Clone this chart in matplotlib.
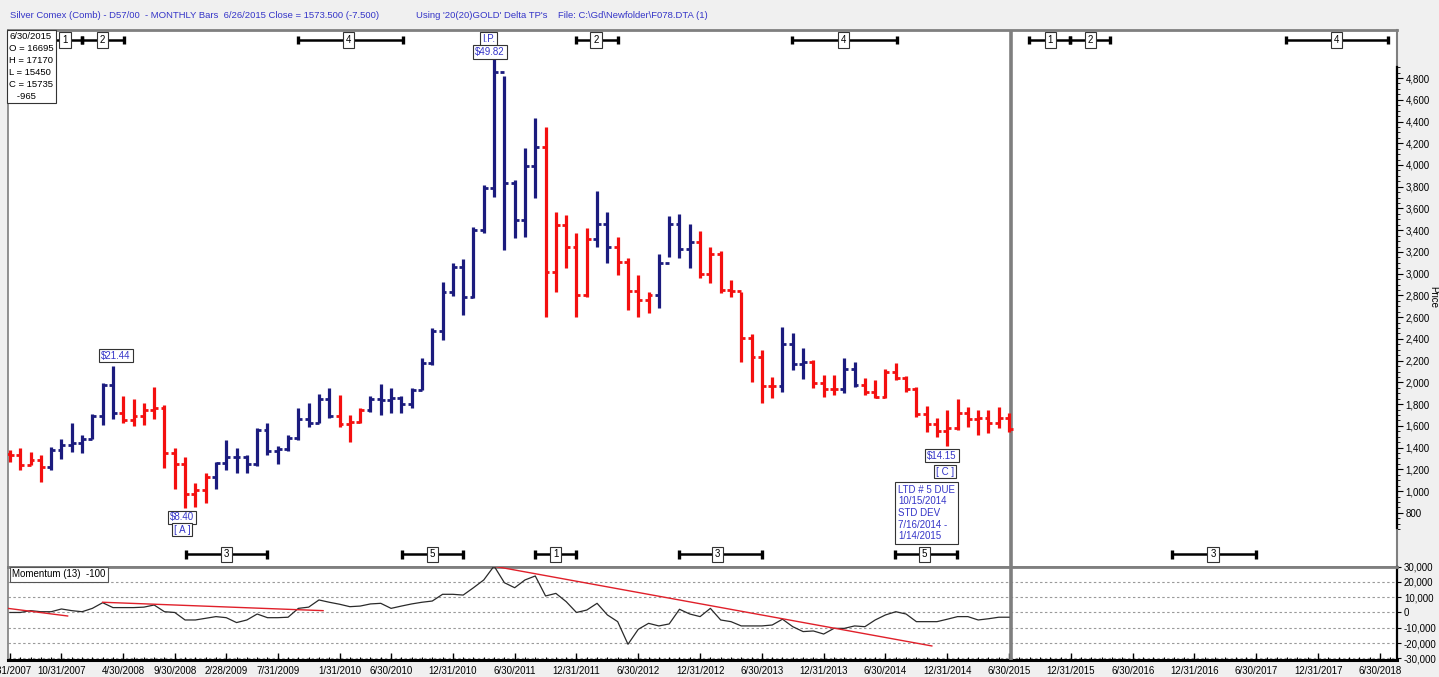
import numpy as np
import pandas as pd
import matplotlib
matplotlib.use('Agg')
import matplotlib.pyplot as plt
from matplotlib.ticker import FixedLocator, FuncFormatter

plt.rcParams['font.family'] = ['Liberation Sans', 'DejaVu Sans']

# ---------------- data ----------------
months = pd.date_range('2007-05-31', periods=136, freq='ME')
month_labels = [f"{d.month}/{d.day}/{d.year}" for d in months]

bar_open = [1340, 1330, 1240, 1290, 1220, 1380, 1420, 1440, 1480, 1690,
            1980, 1720, 1650, 1690, 1750, 1760, 1350, 1250, 970, 1010,
            1130, 1260, 1310, 1310, 1250, 1560, 1370, 1390, 1490, 1660,
            1630, 1850, 1690, 1620, 1640, 1750, 1850, 1840, 1860, 1800,
            1930, 2180, 2470, 2830, 3060, 2790, 3400, 3790, 4860, 3830,
            3490, 3990, 4170, 3020, 3450, 3250, 2800, 3320, 3460, 3250,
            3110, 2840, 2760, 2800, 3100, 3460, 3230, 3290, 3000, 3180,
            2850, 2840, 2410, 2230, 1970, 1970, 2350, 2170, 2190, 1990,
            1940, 1940, 2120, 1980, 1910, 1870, 2100, 2040, 1940, 1710,
            1620, 1550, 1580, 1720, 1660, 1670, 1630, 1669.5]
bar_high = [1378, 1396, 1359, 1332, 1405, 1479, 1626, 1516, 1709, 1994,
            2150, 1874, 1847, 1810, 1957, 1792, 1396, 1313, 1074, 1166,
            1267, 1470, 1396, 1332, 1580, 1629, 1414, 1516, 1764, 1810,
            1893, 1948, 1884, 1700, 1764, 1874, 1985, 1948, 1874, 1948,
            2224, 2500, 2923, 3098, 3135, 3429, 3816, 4982, 4818, 3862,
            4156, 4432, 4349, 3567, 3540, 3374, 3420, 3760, 3567, 3337,
            3144, 2988, 2831, 3181, 3530, 3549, 3457, 3393, 3245, 3208,
            2942, 2831, 2445, 2298, 2049, 2509, 2454, 2316, 2206, 2068,
            2068, 2224, 2187, 2040, 2022, 2123, 2178, 2058, 1957, 1782,
            1672, 1746, 1847, 1773, 1746, 1746, 1773, 1717]
bar_low = [1270, 1194, 1240, 1083, 1194, 1295, 1359, 1350, 1479, 1608,
           1663, 1626, 1598, 1608, 1663, 1212, 1019, 846, 853, 890,
           1019, 1194, 1166, 1166, 1230, 1330, 1250, 1370, 1470, 1589,
           1626, 1672, 1589, 1451, 1626, 1727, 1700, 1718, 1718, 1764,
           1930, 2160, 2390, 2794, 2620, 2776, 3374, 3705, 3218, 3328,
           3337, 3696, 2601, 2831, 3052, 2601, 2785, 3245, 3098, 2988,
           2666, 2601, 2638, 2684, 3153, 3144, 3052, 2960, 2914, 2822,
           2785, 2187, 2003, 1810, 1856, 1911, 2114, 2031, 1948, 1865,
           1884, 1902, 1957, 1884, 1856, 1856, 2022, 1911, 1681, 1543,
           1497, 1415, 1562, 1589, 1516, 1534, 1580, 1545]
bar_close = [1330, 1240, 1290, 1220, 1380, 1420, 1440, 1480, 1690, 1980,
             1720, 1650, 1690, 1750, 1760, 1350, 1250, 970, 1010, 1130,
             1260, 1310, 1310, 1250, 1560, 1370, 1390, 1490, 1660, 1630,
             1850, 1690, 1620, 1640, 1750, 1850, 1840, 1860, 1800, 1930,
             2180, 2470, 2830, 3060, 2790, 3400, 3790, 4860, 3830, 3490,
             3990, 4170, 3020, 3450, 3250, 2800, 3320, 3460, 3250, 3110,
             2840, 2760, 2800, 3100, 3460, 3230, 3290, 3000, 3180, 2850,
             2840, 2410, 2230, 1970, 1970, 2350, 2170, 2190, 1990, 1940,
             1940, 2120, 1980, 1910, 1870, 2100, 2040, 1940, 1710, 1620,
             1550, 1580, 1720, 1660, 1670, 1630, 1670, 1573.5]
bar_trend = (['down'] * 4 + ['up'] * 7 + ['down'] * 9 + ['up'] * 12 +
             ['down'] * 3 + ['up'] * 17 + ['down'] * 5 + ['up'] * 2 +
             ['down'] * 4 + ['up'] * 4 + ['down'] * 8 + ['up'] * 3 +
             ['down'] * 3 + ['up'] * 2 + ['down'] * 15)

momentum = [0, 0, 1200, 500, 500, 2300, 1200, 500, 2700, 6400,
            3200, 3200, 3200, 3500, 4900, 500, 0, -4900, -4900, -3800,
            -2700, -3400, -6600, -4900, -1000, -3400, -3400, -3100, 2700, 3500,
            8200, 6700, 5400, 3800, 4200, 5600, 6000, 2700, 4200, 5600,
            6700, 7500, 11900, 11900, 11400, 16200, 21300, 30400, 19500, 16200,
            21300, 23900, 10800, 12500, 7100, 0, 1600, 6000, -1600, -6000,
            -20800, -11000, -7100, -8800, -7500, 2100, -1000, -2700, 2700, -4900,
            -6000, -8800, -8800, -8800, -8200, -4400, -9300, -12500, -12100, -14100,
            -10400, -10400, -8800, -9300, -4900, -1600, 500, -1000, -6000, -6000,
            -6000, -4400, -2700, -2700, -4900, -4100, -3100, -3100]

# momentum trend lines (month index / momentum units)
mom_trend_x = [[-0.2, 5.6], [9.0, 30.4], [46.9, 89.5]]
mom_trend_y = [[2700, -2300], [6700, 1200], [30400, -21900]]

tick_dates = ["5/31/2007", "10/31/2007", "4/30/2008", "9/30/2008", "2/28/2009",
              "7/31/2009", "1/31/2010", "6/30/2010", "12/31/2010", "6/30/2011",
              "12/31/2011", "6/30/2012", "12/31/2012", "6/30/2013", "12/31/2013",
              "6/30/2014", "12/31/2014", "6/30/2015", "12/31/2015", "6/30/2016",
              "12/31/2016", "6/30/2017", "12/31/2017", "6/30/2018"]

# cycle segments
seg_labels = ['1', '2', '4', '2', '4', '1', '2', '4', '3', '5', '1', '3', '5', '3']
seg_x0 = [3.3, 7.0, 28.0, 55.0, 75.9, 98.9, 102.9, 123.9, 17.1, 38.1, 51.0, 65.0, 85.9, 112.8]
seg_x1 = [7.0, 11.1, 38.2, 59.0, 86.1, 102.9, 106.8, 133.8, 25.0, 44.0, 55.0, 73.0, 91.9, 121.0]
seg_lx = [5.35, 9.0, 32.9, 56.9, 80.9, 101.0, 104.9, 128.8, 21.0, 41.0, 53.0, 68.7, 88.8, 116.8]
seg_lvl = ['top'] * 8 + ['bottom'] * 6

# ---------------- figure ----------------
FW, FH = 1439, 677
fig = plt.figure(figsize=(FW / 100, FH / 100), dpi=100, facecolor='#f0f0f0')
L = 8 / FW
R = 1397 / FW
ax = fig.add_axes([L, 1 - 566.5 / FH, R - L, (566.5 - 30) / FH])
axm = fig.add_axes([L, 1 - 660 / FH, R - L, (660 - 566.5) / FH], sharex=ax)
for a in (ax, axm):
    a.set_facecolor('white')

XMIN, XMAX = -0.19, 134.66
ax.set_xlim(XMIN, XMAX)
ax.set_ylim(306, 5242)
axm.set_ylim(-31100, 30100)

BLUE = '#1b1b7e'
RED = '#f40f0f'
TXTBLUE = '#3535c8'
GRAY = '#7f7f7f'
FS = 7.0

# bars
for i in range(len(bar_close)):
    c = BLUE if bar_trend[i] == 'up' else RED
    ax.vlines(i, bar_low[i], bar_high[i], color=c, lw=2.3, zorder=4)
    ax.hlines(bar_open[i], i - 0.38, i, color=c, lw=2.0, zorder=4)
    ax.hlines(bar_close[i], i, i + 0.38, color=c, lw=2.0, zorder=4)

# separator line at last bar
for a in (ax, axm):
    a.axvline(97.15, color=GRAY, lw=2.6, zorder=3)

# price axis
ax.yaxis.tick_right()
ax.yaxis.set_major_locator(FixedLocator(list(range(800, 4801, 200))))
ax.yaxis.set_minor_locator(FixedLocator(list(range(650, 4901, 50))))
ax.yaxis.set_major_formatter(FuncFormatter(lambda v, p: f"{v:,.0f}"))
ax.tick_params(axis='y', which='major', length=4, width=0.8, labelsize=FS, pad=2)
ax.tick_params(axis='y', which='minor', length=2, width=0.6)
ax.tick_params(axis='x', which='both', bottom=False, labelbottom=False)
for s in ('left', 'top', 'right', 'bottom'):
    ax.spines[s].set_color(GRAY)
ax.spines['left'].set_linewidth(1.2)
ax.spines['top'].set_linewidth(2.0)
ax.spines['right'].set_linewidth(1.5)
ax.spines['bottom'].set_linewidth(2.0)
ax.plot([XMAX, XMAX], [660, 4900], color='black', lw=1.6, clip_on=False, zorder=6)
fig.text(1433 / FW, 1 - 297 / FH, 'Price', rotation=270, fontsize=FS,
         ha='center', va='center')

# momentum panel
for v in range(-30000, 30001, 10000):
    axm.axhline(v, color='#9a9a9a', lw=0.8, ls=(0, (2.2, 2.2)), zorder=1)
axm.plot(range(len(momentum)), momentum, color='#2a2a2a', lw=0.9, zorder=4)
for xs, ys in zip(mom_trend_x, mom_trend_y):
    axm.plot(xs, ys, color='#e0202a', lw=1.0, zorder=5)
axm.yaxis.tick_right()
axm.yaxis.set_major_locator(FixedLocator(list(range(-30000, 30001, 10000))))
axm.yaxis.set_major_formatter(FuncFormatter(lambda v, p: f"{v:,.0f}"))
axm.tick_params(axis='y', length=3, width=0.8, labelsize=FS, pad=2)
tick_pos = [month_labels.index(t) for t in tick_dates]
axm.xaxis.set_major_locator(FixedLocator(tick_pos))
axm.xaxis.set_minor_locator(FixedLocator(list(range(0, 135))))
axm.set_xticklabels(tick_dates)
axm.tick_params(axis='x', which='major', direction='in', length=5, width=1.0,
                labelsize=FS, pad=4.5)
axm.tick_params(axis='x', which='minor', direction='in', length=2.5, width=0.8)
axm.spines['top'].set_color(GRAY)
axm.spines['top'].set_linewidth(2.0)
axm.spines['left'].set_color(GRAY)
axm.spines['left'].set_linewidth(1.2)
axm.spines['bottom'].set_color('black')
axm.spines['bottom'].set_linewidth(2.2)
axm.spines['right'].set_color('black')
axm.spines['right'].set_linewidth(1.6)
axm.text(0.003, 0.915, 'Momentum (13)  -100', transform=axm.transAxes, fontsize=FS,
         ha='left', va='center', zorder=7,
         bbox=dict(boxstyle='square,pad=0.25', fc='white', ec='#555555', lw=0.8))

# cycle segments
lvl_y = {'top': 5152, 'bottom': 417}
for lab, x0, x1, lx, lv in zip(seg_labels, seg_x0, seg_x1, seg_lx, seg_lvl):
    yv = lvl_y[lv]
    ax.plot([x0, x1], [yv, yv], color='black', lw=1.8, zorder=5, solid_capstyle='butt')
    for xe in (x0, x1):
        ax.plot([xe, xe], [yv - 38, yv + 38], color='black', lw=2.4, zorder=5,
                solid_capstyle='butt')
    ax.text(lx, yv, lab, fontsize=FS, ha='center', va='center', zorder=6,
            bbox=dict(boxstyle='square,pad=0.3', fc='white', ec='#333333', lw=0.8))

# info box (top-left)
info = "6/30/2015\nO = 16695\nH = 17170\nL = 15450\nC = 15735\n   -965"
ax.text(0.001, 0.9955, info, transform=ax.transAxes, fontsize=6.8, ha='left', va='top',
        linespacing=1.42, zorder=8,
        bbox=dict(boxstyle='square,pad=0.22', fc='white', ec='#333333', lw=0.8))

# price labels
box = dict(boxstyle='square,pad=0.2', fc='white', ec='#333333', lw=0.8)
ax.text(10.3, 2247, '$21.44', color=TXTBLUE, fontsize=FS, ha='center', va='center',
        zorder=7, bbox=box)
ax.text(16.7, 757, '$8.40', color=TXTBLUE, fontsize=FS, ha='center', va='center',
        zorder=7, bbox=box)
ax.text(16.7, 646, '[ A ]', color=TXTBLUE, fontsize=FS, ha='center', va='center',
        zorder=7, bbox=box)
ax.text(46.5, 5161, 'I.P.', color=TXTBLUE, fontsize=FS, ha='center', va='center',
        zorder=7, bbox=box)
ax.text(46.6, 5042, '$49.82', color=TXTBLUE, fontsize=FS, ha='center', va='center',
        zorder=7, bbox=box)
ax.text(90.5, 1327, '$14.15', color=TXTBLUE, fontsize=FS, ha='center', va='center',
        zorder=7, bbox=box)
ax.text(90.8, 1180, '[ C ]', color=TXTBLUE, fontsize=FS, ha='center', va='center',
        zorder=7, bbox=box)
ax.text(86.2, 1058, 'LTD # 5 DUE\n10/15/2014\nSTD DEV\n7/16/2014 -\n1/14/2015',
        color=TXTBLUE, fontsize=FS, ha='left', va='top', linespacing=1.2, zorder=7,
        bbox=dict(boxstyle='square,pad=0.3', fc='white', ec='#333333', lw=0.8))

# header
fig.text(10 / FW, 1 - 15 / FH,
         "Silver Comex (Comb) - D57/00  - MONTHLY Bars  6/26/2015 Close = 1573.500 (-7.500)",
         color=TXTBLUE, fontsize=6.8, ha='left', va='center')
fig.text(416 / FW, 1 - 15 / FH,
         "Using '20(20)GOLD' Delta TP's    File: C:\\Gd\\Newfolder\\F078.DTA (1)",
         color=TXTBLUE, fontsize=6.8, ha='left', va='center')

fig.savefig('out.png', dpi=100, facecolor=fig.get_facecolor())
